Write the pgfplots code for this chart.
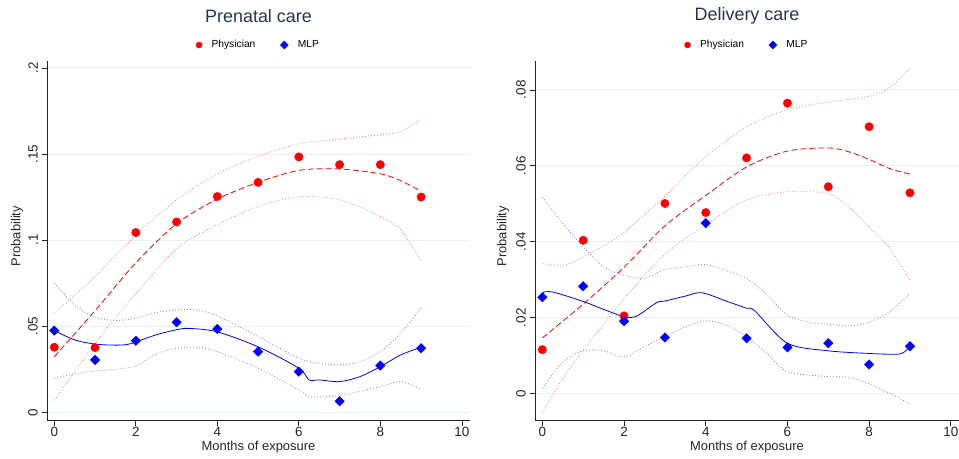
\documentclass[border=0pt]{standalone}
\usepackage{pgfplots}
\pgfplotsset{compat=1.18}
\usepackage{fontspec}
\setmainfont{Liberation Sans}
\definecolor{titlecol}{RGB}{38,52,84}
\definecolor{gridcol}{RGB}{232,240,242}
\definecolor{ciRed}{RGB}{255,140,140}
\definecolor{ciBlue}{RGB}{140,140,255}
\pgfplotsset{
  stataax/.style={
    scale only axis, height=359.7bp,
    xmin=-0.18, xmax=10.2,
    scaled y ticks=false, scaled x ticks=false,
    axis x line*=bottom, axis y line*=left,
    x axis line style={-, line width=0.8bp, black!85},
    y axis line style={-, line width=0.8bp, black!85},
    tick align=outside, major tick length=5bp,
    tick style={line width=0.7bp, black!85},
    xtick={0,2,4,6,8,10}, xticklabels={0,2,4,6,8,10},
    ymajorgrids, grid style={gridcol, line width=0.8bp},
    ticklabel style={font=\fontsize{13.5}{15}\selectfont, black!85},
    yticklabel style={rotate=90, anchor=south, inner sep=0pt, inner ysep=4bp},
    xticklabel style={inner sep=1.5bp},
    legend style={at={(0.5,1.0445)}, anchor=center, draw=none, fill=none,
      font=\fontsize{10.3}{12}\selectfont, legend columns=2,
      /tikz/every odd column/.append style={column sep=7.5bp},
      /tikz/every even column/.append style={column sep=23bp}},
    clip=false,
  },
  phys/.style={only marks, mark=*, mark size=4.2bp, color=red, mark options={fill=red, draw=red},
    legend image code/.code={\draw[mark repeat=2,mark phase=2,##1, mark size=3bp] plot coordinates {(0cm,0cm) (0.3cm,0cm) (0.6cm,0cm)};}},
  mlp/.style={only marks, mark=square*, mark size=3.35bp, color=blue, mark options={fill=blue, draw=blue, rotate=45},
    legend image code/.code={\draw[mark repeat=2,mark phase=2,##1, mark size=2.8bp] plot coordinates {(0cm,0cm) (0.3cm,0cm) (0.6cm,0cm)};}},
  fitR/.style={red, line width=0.8bp, dash pattern=on 6bp off 3bp, smooth, tension=0.5, no markers, forget plot},
  fitB/.style={blue, line width=0.8bp, smooth, tension=0.5, no markers, forget plot},
  ciR/.style={ciRed, line width=0.9bp, dash pattern=on 0.9bp off 2.1bp, smooth, tension=0.5, no markers, forget plot},
  ciB/.style={ciBlue, line width=0.9bp, dash pattern=on 0.9bp off 2.1bp, smooth, tension=0.5, no markers, forget plot},
}
\begin{document}
\begin{tikzpicture}
\path[use as bounding box] (0,0) rectangle (959bp,459bp);
% ---------------- Prenatal care ----------------
\begin{axis}[stataax, at={(47bp,38.3bp)}, anchor=south west, width=423bp,
  ymin=-0.0049, ymax=0.204,
  ytick={0,0.05,0.1,0.15,0.2}, yticklabels={0,.05,.1,.15,.2}]
\addplot[phys] coordinates {(0,0.0378)(1,0.0376)(2,0.1044)(3,0.1105)(4,0.1253)(5,0.1335)(6,0.1483)(7,0.1438)(8,0.1438)(9,0.125)};
\addlegendentry{Physician}
\addplot[mlp] coordinates {(0,0.0474)(1,0.0304)(2,0.0415)(3,0.0523)(4,0.0484)(5,0.0352)(6,0.0236)(7,0.0064)(8,0.0271)(9,0.0372)};
\addlegendentry{MLP}
\addplot[ciR] coordinates {(0,0.0575)(1,0.0788)(2,0.103)(3,0.1234)(4,0.1385)(5,0.1486)(6,0.1560)(7,0.1587)(8,0.1612)(8.5,0.163)(9,0.1705)};
\addplot[ciR] coordinates {(0,0.0070)(1,0.040)(2,0.069)(3,0.095)(4,0.109)(5,0.1195)(6,0.1252)(7,0.1234)(8,0.1137)(8.5,0.106)(9,0.0876)};
\addplot[fitR] coordinates {(0,0.0323)(1,0.0590)(2,0.0868)(3,0.1095)(4,0.1238)(5,0.1335)(6,0.1405)(7,0.1413)(8,0.1385)(8.5,0.1345)(9,0.1283)};
\addplot[ciB] coordinates {(0,0.075)(0.5,0.0624)(1,0.0552)(1.5,0.0533)(2,0.0547)(2.5,0.0579)(3,0.0595)(3.5,0.0593)(4,0.056)(5,0.044)(6,0.0314)(6.5,0.0285)(7,0.0275)(7.5,0.0294)(8,0.0352)(8.5,0.0459)(9,0.0605)};
\addplot[ciB] coordinates {(0,0.0198)(0.5,0.0223)(1,0.024)(1.5,0.025)(2,0.0269)(2.5,0.0339)(3,0.0372)(3.5,0.0378)(4,0.0352)(5,0.0256)(6,0.013)(6.3,0.009)(7,0.0097)(8,0.0149)(8.5,0.0178)(9,0.0134)};
\addplot[fitB] coordinates {(0,0.0475)(0.5,0.042)(1,0.0396)(1.5,0.039)(1.85,0.0397)(2.5,0.045)(3,0.0479)(3.3,0.0487)(4,0.0467)(5,0.038)(6,0.0256)(6.25,0.0188)(6.5,0.0188)(7,0.0178)(7.5,0.0207)(8,0.0265)(8.5,0.0333)(9,0.0378)};
\node[font=\fontsize{18}{20}\selectfont, text=titlecol] at (rel axis cs:0.5,1.125) {Prenatal care};
\node[font=\fontsize{13}{15}\selectfont, text=black!85] at (rel axis cs:0.5,-0.0731) {Months of exposure};
\node[font=\fontsize{13}{15}\selectfont, text=black!85, rotate=90] at (rel axis cs:-0.0709,0.513) {Probability};
\end{axis}
% ---------------- Delivery care ----------------
\begin{axis}[stataax, at={(535bp,38.3bp)}, anchor=south west, width=424bp,
  ymin=-0.0071, ymax=0.0876,
  ytick={0,0.02,0.04,0.06,0.08}, yticklabels={0,.02,.04,.06,.08}]
\addplot[phys] coordinates {(0,0.0116)(1,0.0404)(2,0.0205)(3,0.0501)(4,0.0477)(5,0.0621)(6,0.0765)(7,0.0545)(8,0.0703)(9,0.0529)};
\addlegendentry{Physician}
\addplot[mlp] coordinates {(0,0.0254)(1,0.0283)(2,0.0191)(3,0.0148)(4,0.0449)(5,0.0146)(6,0.0122)(7,0.0133)(8,0.0077)(9,0.0125)};
\addlegendentry{MLP}
\addplot[ciR] coordinates {(0,0.0343)(0.5,0.0337)(1,0.0360)(1.5,0.0390)(2,0.0425)(3,0.0520)(4,0.0624)(5,0.0703)(6,0.0748)(7,0.0768)(8,0.0783)(8.5,0.0806)(9,0.0856)};
\addplot[ciR] coordinates {(0,-0.0049)(0.5,0.0040)(1,0.0115)(2,0.0250)(3,0.0367)(4,0.0445)(5,0.0510)(6,0.0532)(7,0.0527)(7.5,0.0492)(8,0.0439)(8.5,0.0383)(9,0.0299)};
\addplot[fitR] coordinates {(0,0.0147)(1,0.0236)(2,0.0333)(3,0.0442)(4,0.0522)(5,0.0597)(6,0.0639)(7,0.0647)(7.5,0.0637)(8,0.0617)(8.5,0.0593)(9,0.0578)};
\addplot[ciB] coordinates {(0,0.0518)(0.5,0.0448)(1,0.0387)(1.5,0.0334)(2,0.0312)(2.5,0.0304)(3,0.0327)(3.5,0.0334)(4,0.034)(4.5,0.0324)(5,0.0304)(5.5,0.026)(6,0.0207)(6.5,0.0189)(7,0.0183)(7.5,0.0179)(8,0.0188)(8.5,0.0216)(9,0.0264)};
\addplot[ciB] coordinates {(0,0.0014)(0.5,0.0084)(1,0.0113)(1.5,0.0113)(2,0.0097)(2.5,0.0124)(3,0.015)(3.5,0.0176)(4,0.0192)(4.5,0.0181)(5,0.015)(5.5,0.0106)(6,0.0058)(7,0.0045)(7.5,0.0043)(8,0.0026)(8.5,0.0001)(9,-0.0027)};
\addplot[fitB] coordinates {(0,0.0266)(0.25,0.0268)(1,0.0243)(1.5,0.0222)(2,0.0203)(2.3,0.0204)(2.8,0.0240)(3,0.0244)(3.5,0.0257)(3.9,0.0266)(4.5,0.0244)(5,0.0225)(5.2,0.0218)(6,0.0133)(7,0.0113)(8,0.0106)(8.5,0.0104)(8.8,0.0106)(9,0.0124)};
\node[font=\fontsize{18}{20}\selectfont, text=titlecol] at (rel axis cs:0.5,1.125) {Delivery care};
\node[font=\fontsize{13}{15}\selectfont, text=black!85] at (rel axis cs:0.5,-0.0731) {Months of exposure};
\node[font=\fontsize{13}{15}\selectfont, text=black!85, rotate=90] at (rel axis cs:-0.0755,0.513) {Probability};
\end{axis}
\end{tikzpicture}
\end{document}
